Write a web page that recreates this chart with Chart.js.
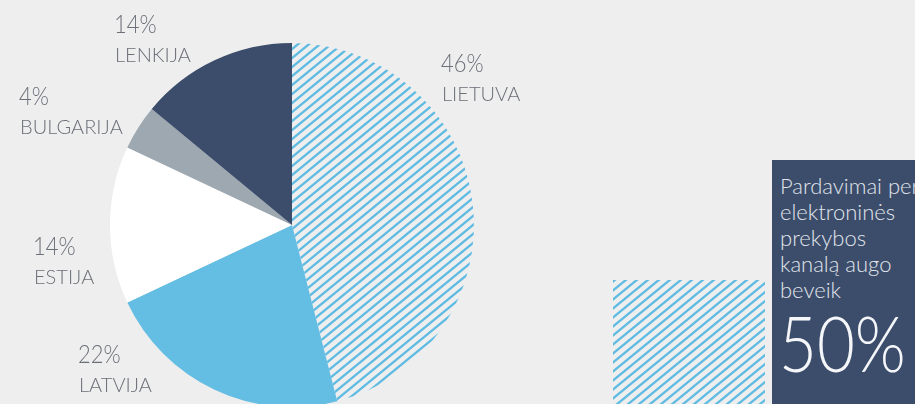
<!DOCTYPE html>
<html>
<head>
<meta charset="utf-8">
<script src="https://cdn.jsdelivr.net/npm/chart.js@4"></script>
<style>
  html, body { margin: 0; padding: 0; width: 915px; height: 404px; overflow: hidden; background: #eeeeee; }
  #wrap { position: absolute; left: 0; top: 0; width: 915px; height: 450px; }
  #box { position: absolute; left: 772px; top: 160px; width: 143px; height: 244px; background: #3b4d6b; overflow: hidden; }
  #box p { margin: 0; padding: 13px 0 0 8px; font-family: Lato, "Open Sans", sans-serif; font-weight: 300; font-size: 22px; line-height: 26px; color: #e1e5ec; white-space: nowrap; }
  #big { position: absolute; left: 7px; top: 145px; font-family: Lato, "Open Sans", sans-serif; font-weight: 300; font-size: 76px; line-height: 76px; color: #f4f6f9; transform: scaleX(0.86); transform-origin: left top; white-space: nowrap; }
</style>
</head>
<body>
<div id="wrap"><canvas id="c" width="915" height="450"></canvas></div>
<div id="box">
  <p>Pardavimai per<br>elektroninės<br>prekybos<br>kanalą augo<br>beveik</p>
  <div id="big">50%</div>
</div>
<script>
// ---- data ----
const categories = ["LIETUVA", "LATVIJA", "ESTIJA", "BULGARIJA", "LENKIJA"];
const shares = [46, 22, 14, 4, 14];
const shareLabels = ["46%", "22%", "14%", "4%", "14%"];

// ---- styles / layout ----
const NAVY = "#3b4d6b", SKY = "#64bde2", WHITE = "#ffffff", GREY = "#9ea8b1", HATCH = "#5fbbe2";
const TEXT = "#6b6f78";
// label anchors (percent baseline-left) relative to pie centre, in px
const labelOffsets = [[149, -153], [-214, 138], [-259, 30], [-273, -120], [-178, -192]];

function makeHatch() {
  const w = 11, h = 9;
  const t = document.createElement("canvas");
  t.width = w; t.height = h;
  const g = t.getContext("2d");
  g.strokeStyle = HATCH;
  g.lineWidth = 2.3;
  for (let n = -1; n <= 1; n++) {
    g.beginPath();
    g.moveTo(-w, 2 * h + n * h);
    g.lineTo(2 * w, -h + n * h);
    g.stroke();
  }
  return g.createPattern ? document.getElementById("c").getContext("2d").createPattern(t, "repeat") : HATCH;
}
const hatch = makeHatch();

const decor = {
  id: "decor",
  beforeDatasetsDraw(chart) {
    const ctx = chart.ctx;
    ctx.save();
    ctx.fillStyle = hatch;
    ctx.fillRect(613, 280, 152, 170);
    ctx.restore();
  },
  afterDatasetsDraw(chart) {
    const ctx = chart.ctx;
    const meta = chart.getDatasetMeta(0);
    ctx.save();
    ctx.fillStyle = TEXT;
    ctx.textBaseline = "alphabetic";
    ctx.textAlign = "left";
    meta.data.forEach((arc, i) => {
      const x = arc.x + labelOffsets[i][0];
      const y = arc.y + labelOffsets[i][1];
      ctx.save();
      ctx.translate(x, y);
      ctx.scale(0.88, 1);
      ctx.font = "300 25px Lato, 'Open Sans', sans-serif";
      ctx.fillText(shareLabels[i], 0, 0);
      ctx.restore();
      ctx.font = "300 20px Lato, 'Open Sans', sans-serif";
      ctx.fillText(categories[i], x + 1, y + 29);
    });
    ctx.restore();
  }
};

new Chart(document.getElementById("c"), {
  type: "pie",
  data: {
    labels: categories,
    datasets: [{
      data: shares,
      backgroundColor: [hatch, SKY, WHITE, GREY, NAVY],
      borderWidth: 0,
      hoverOffset: 0
    }]
  },
  options: {
    responsive: false,
    animation: false,
    events: [],
    layout: { padding: { left: 110, top: 43, right: 441, bottom: 43 } },
    plugins: { legend: { display: false }, tooltip: { enabled: false } }
  },
  plugins: [decor]
});
</script>
</body>
</html>
